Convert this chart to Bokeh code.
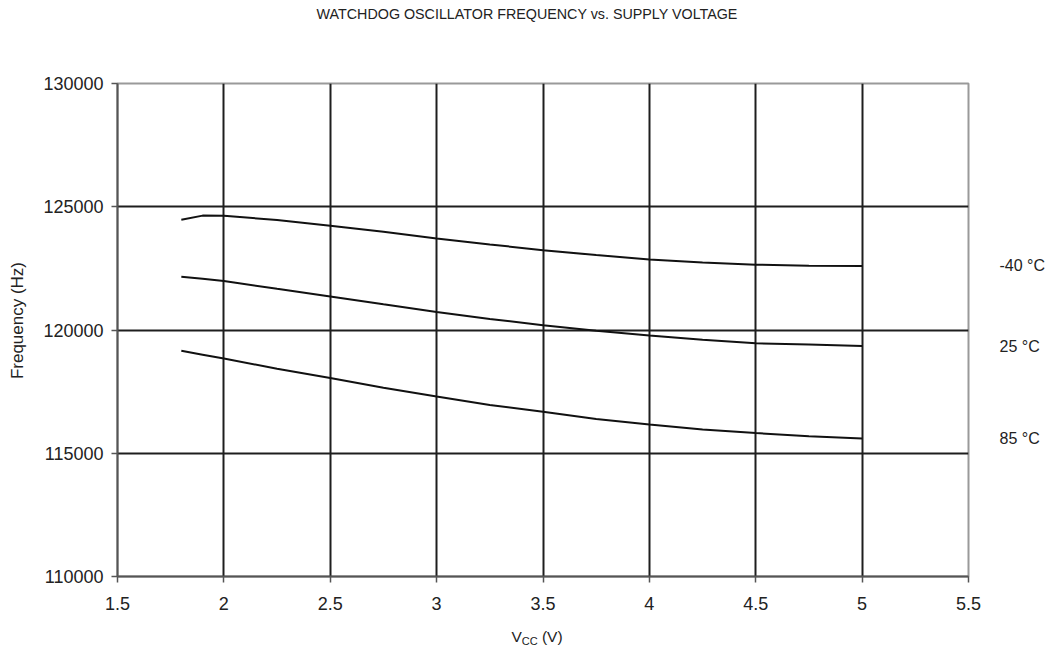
from bokeh.plotting import figure
from bokeh.models import FixedTicker, Range1d, LinearAxis, Div
from bokeh.layouts import column
from bokeh.embed import file_html
from bokeh.resources import INLINE

# ---- data ----
vcc = [1.8, 1.9, 2.0, 2.25, 2.5, 2.75, 3.0, 3.25, 3.5, 3.75, 4.0, 4.25, 4.5, 4.75, 5.0]
f_m40 = [124470, 124640, 124635, 124460, 124230, 123990, 123715, 123470, 123240, 123040,
         122860, 122740, 122650, 122610, 122600]
f_25 = [122160, 122080, 121990, 121670, 121360, 121040, 120730, 120450, 120190, 119970,
        119780, 119600, 119460, 119410, 119350]
f_85 = [119160, 119000, 118840, 118430, 118050, 117660, 117300, 116960, 116680, 116390,
        116170, 115960, 115820, 115690, 115600]
series_names = ["-40 °C", "25 °C", "85 °C"]
series_vals = [f_m40, f_25, f_85]

x_ticks = [1.5, 2.0, 2.5, 3.0, 3.5, 4.0, 4.5, 5.0, 5.5]
x_tick_labels = ["1.5", "2", "2.5", "3", "3.5", "4", "4.5", "5", "5.5"]
y_ticks = [110000, 115000, 120000, 125000, 130000]

title_text = "WATCHDOG OSCILLATOR FREQUENCY vs. SUPPLY VOLTAGE"
y_label = "Frequency (Hz)"
x_label_main, x_label_sub, x_label_unit = "V", "CC", " (V)"

FONT = "Liberation Sans"
TXT = "#222222"

# title block
title_div = Div(text=title_text, width=1050, height=28, margin=(0, 0, 0, 0),
                styles={"font-family": FONT, "font-size": "14.3px", "color": TXT,
                        "text-align": "center", "line-height": "28px",
                        "padding-left": "4px", "box-sizing": "border-box",
                        "white-space": "nowrap"})

p = figure(width=1050, height=600, output_backend="svg", toolbar_location=None,
           x_range=Range1d(x_ticks[0], x_ticks[-1]), y_range=Range1d(y_ticks[0], y_ticks[-1]),
           min_border_left=117, min_border_right=82, min_border_top=55, min_border_bottom=52)
p.title.text = ""
p.background_fill_color = "white"
p.border_fill_color = "white"
p.outline_line_color = "#9a9a9a"
p.outline_line_width = 2

# axes
p.xaxis.ticker = FixedTicker(ticks=x_ticks)
p.xaxis.major_label_overrides = {t: l for t, l in zip(x_ticks, x_tick_labels)}
p.yaxis.ticker = FixedTicker(ticks=y_ticks)
p.yaxis.major_label_overrides = {t: str(t) for t in y_ticks}
for ax in (p.xaxis, p.yaxis):
    ax.axis_line_color = "#555555"
    ax.axis_line_width = 2
    ax.major_tick_line_color = "#555555"
    ax.major_tick_line_width = 1.5
    ax.major_tick_out = 6
    ax.major_tick_in = 0
    ax.minor_tick_line_color = None
    ax.major_label_text_font = FONT
    ax.major_label_text_font_size = "18px"
    ax.major_label_text_color = TXT
p.xaxis.major_label_standoff = 14
p.yaxis.major_label_standoff = 8
p.yaxis.axis_label = "\u00a0\u00a0\u00a0\u00a0" + y_label
p.yaxis.axis_label_text_font = FONT
p.yaxis.axis_label_text_font_size = "17px"
p.yaxis.axis_label_text_font_style = "normal"
p.yaxis.axis_label_text_color = TXT
p.yaxis.axis_label_standoff = 13

# right-side series labels (placed at each curve's end value)
end_vals = [v[-1] for v in series_vals]
rax = LinearAxis(ticker=FixedTicker(ticks=end_vals),
                 major_label_overrides={v: n for v, n in zip(end_vals, series_names)})
rax.axis_line_color = None
rax.major_tick_line_color = None
rax.minor_tick_line_color = None
rax.major_label_standoff = 25
rax.major_label_text_font = FONT
rax.major_label_text_font_size = "16px"
rax.major_label_text_color = TXT
p.add_layout(rax, "right")

# grid
p.xgrid.ticker = FixedTicker(ticks=x_ticks[1:-1])
p.ygrid.ticker = FixedTicker(ticks=y_ticks[1:-1])
for g in (p.xgrid, p.ygrid):
    g.grid_line_color = "#1e1e1e"
    g.grid_line_width = 2
    g.grid_line_alpha = 1.0

# curves
for vals in series_vals:
    p.line(vcc, vals, line_color="#111111", line_width=2)

# x axis label with subscript
xlab = Div(text=(f'{x_label_main}<span style="font-size:11px;position:relative;top:3px">'
                 f'{x_label_sub}</span>{x_label_unit}'),
           width=1050, height=18, margin=(0, 0, 0, 0),
           styles={"font-family": FONT, "font-size": "15.5px", "color": TXT,
                   "text-align": "center", "line-height": "18px",
                   "padding-left": "24px", "box-sizing": "border-box"})

layout = column(title_div, p, xlab, spacing=0)
open("out.html", "w").write(file_html(layout, INLINE))
